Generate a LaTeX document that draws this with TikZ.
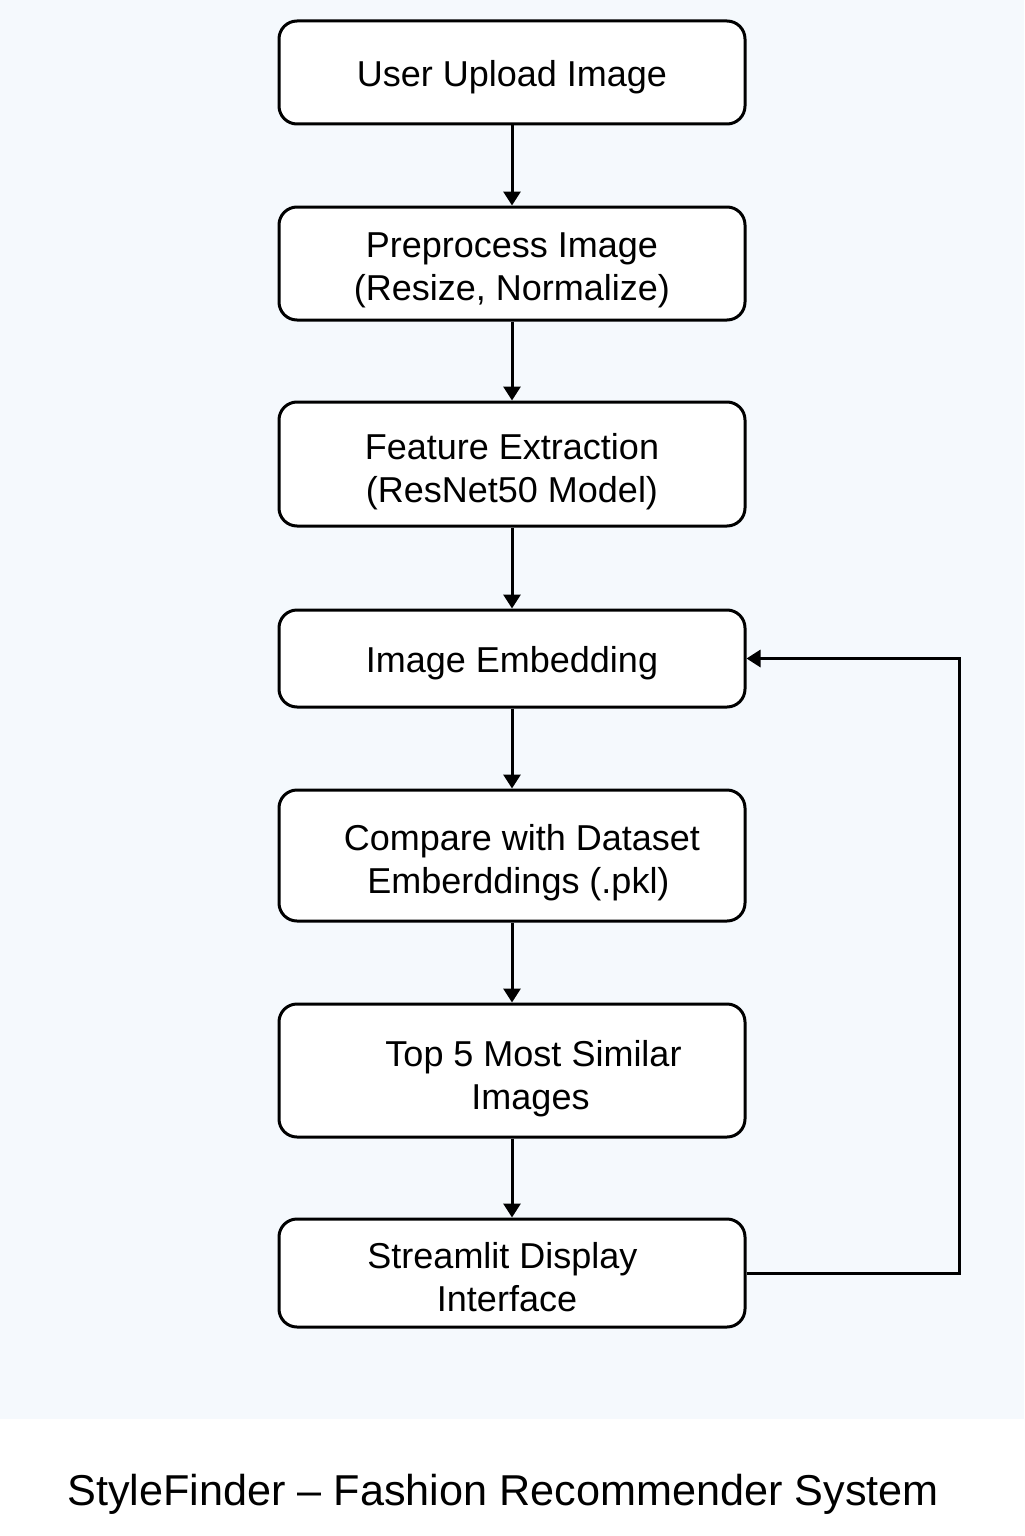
\documentclass[tikz,border=0pt]{standalone}
\usepackage{fontspec}
\setmainfont{Liberation Sans}
\usetikzlibrary{arrows.meta}
\definecolor{bgblue}{HTML}{F5F9FD}
\newcommand{\lowerline}[2]{\raisebox{-#1}[\height][\depth]{#2}}
\tikzset{
  flowbox/.style={draw=black, line width=1.5pt, rounded corners=9pt, fill=white,
    minimum width=233pt, align=center, inner sep=0pt,
    font=\fontsize{18}{21.5}\selectfont},
  flowarrow/.style={draw=black, line width=1.5pt, -{Triangle[length=7pt,width=8.5pt]}},
  titletext/.style={font=\fontsize{21.6}{26}\selectfont, inner sep=0pt}
}
\begin{document}
\begin{tikzpicture}[x=0.5pt,y=-0.5pt]
\useasboundingbox (0,0) rectangle (1024,1536);
\fill[white] (0,0) rectangle (1024,1536);
\fill[bgblue] (0,0) rectangle (1024,1419);

\node[flowbox, minimum height=51.5pt] (n1) at (512,72.5) {\lowerline{2.5pt}{User Upload Image}};
\node[flowbox, minimum height=56.5pt] (n2) at (512,263.5) {\lowerline{3.5pt}{Preprocess Image}\\\lowerline{3.5pt}{(Resize, Normalize)}};
\node[flowbox, minimum height=62pt] (n3) at (512,464) {\lowerline{4pt}{Feature Extraction}\\\lowerline{4pt}{(ResNet50 Model)}};
\node[flowbox, minimum height=48.5pt] (n4) at (512,658.5) {\lowerline{2.5pt}{Image Embedding}};
\node[flowbox, minimum height=65.5pt] (n5) at (512,855.5) {\hspace*{10pt}\lowerline{3.5pt}{Compare with Dataset}\\\hspace*{6.5pt}\lowerline{3.5pt}{Emberddings (.pkl)}};
\node[flowbox, minimum height=66.5pt] (n6) at (512,1070.5) {\hspace*{21.5pt}\lowerline{4pt}{Top 5 Most Similar}\\\hspace*{18.5pt}\lowerline{4pt}{Images}};
\node[flowbox, minimum height=54pt] (n7) at (512,1273) {\hspace*{-9.5pt}\lowerline{2pt}{Streamlit Display}\\\hspace*{-5pt}\lowerline{2pt}{Interface}};

\draw[flowarrow] (n1) -- (n2);
\draw[flowarrow] (n2) -- (n3);
\draw[flowarrow] (n3) -- (n4);
\draw[flowarrow] (n4) -- (n5);
\draw[flowarrow] (n5) -- (n6);
\draw[flowarrow] (n6) -- (n7);

\coordinate (fb) at (959,960);
\draw[flowarrow] (n7.east) -| (fb) |- (n4.east);

\node[titletext] (title) at (503,1494) {StyleFinder – Fashion Recommender System};
\end{tikzpicture}
\end{document}
